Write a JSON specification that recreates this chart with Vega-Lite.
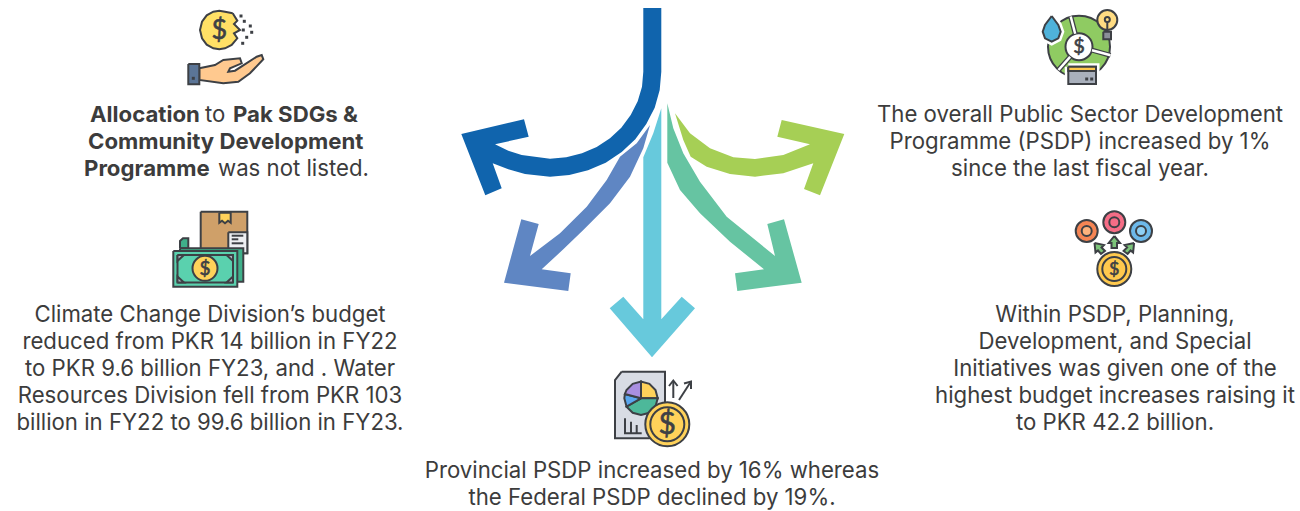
{
"$schema":"https://vega.github.io/schema/vega-lite/v6.json",
"width":1300,"height":511,"padding":0,"autosize":{"type":"fit","contains":"padding"},
"background":"white",
"config":{"view":{"stroke":null}},
"encoding":{
"x":{"field":"x","type":"quantitative","axis":null,"scale":{"domain":[0,1300],"nice":false,"zero":false}},
"y":{"field":"y","type":"quantitative","axis":null,"scale":{"domain":[0,511],"nice":false,"zero":false,"reverse":true}},
"color":{"field":"tone","type":"nominal","legend":null,"scale":{
"domain":["navy","periwinkle","sky","seagreen","lime","coinlight","skin","slate","tan","gold","paper","teal","mint","grass","water","bulb","steel","card","orange","peach","rose","azure","ice","leaf","amber","hollow","white","doc","violet","blue2","jade"],
"range":["#1064AD","#5F86C3","#67C9DC","#66C4A2","#A6CF55","#FFE066","#FFC98F","#5B7597","#CFA069","#FFD25A","#EDEFF2","#3FB08A","#5AD1AE","#8FCB62","#4FB2DA","#FFDC82","#8A8F99","#A9B0BC","#F58554","#FDB27D","#F56D86","#6DB9EA","#8ED0F5","#7CC47A","#FFC94D","transparent","#FFFFFF","#D8DCE4","#A98FE0","#5AA7EE","#4DB89A"]}}
},
"datasets":{
"arrows":[
{"shape":"a1","tone":"navy","x":643.3,"y":8},{"shape":"a1","tone":"navy","x":661.3,"y":8},{"shape":"a1","tone":"navy","x":661.3,"y":71.7},{"shape":"a1","tone":"navy","x":659.7,"y":90},{"shape":"a1","tone":"navy","x":654.7,"y":107.7},{"shape":"a1","tone":"navy","x":646.3,"y":124},{"shape":"a1","tone":"navy","x":635.3,"y":139.3},{"shape":"a1","tone":"navy","x":621.7,"y":152},{"shape":"a1","tone":"navy","x":605.7,"y":162.7},{"shape":"a1","tone":"navy","x":588,"y":170.3},{"shape":"a1","tone":"navy","x":569.3,"y":175},{"shape":"a1","tone":"navy","x":550,"y":176.7},{"shape":"a1","tone":"navy","x":525,"y":174},{"shape":"a1","tone":"navy","x":508.3,"y":169.3},{"shape":"a1","tone":"navy","x":492.7,"y":163.3},{"shape":"a1","tone":"navy","x":501.7,"y":188.3},{"shape":"a1","tone":"navy","x":485.3,"y":195.3},{"shape":"a1","tone":"navy","x":461.3,"y":134},{"shape":"a1","tone":"navy","x":524,"y":119.3},{"shape":"a1","tone":"navy","x":528.7,"y":136.7},{"shape":"a1","tone":"navy","x":495,"y":144.3},{"shape":"a1","tone":"navy","x":508.3,"y":150.7},{"shape":"a1","tone":"navy","x":521.7,"y":155},{"shape":"a1","tone":"navy","x":550,"y":158.7},{"shape":"a1","tone":"navy","x":566.3,"y":157.3},{"shape":"a1","tone":"navy","x":582,"y":153.3},{"shape":"a1","tone":"navy","x":596.7,"y":147},{"shape":"a1","tone":"navy","x":610,"y":138.3},{"shape":"a1","tone":"navy","x":621.3,"y":127.7},{"shape":"a1","tone":"navy","x":630.7,"y":115},{"shape":"a1","tone":"navy","x":637.7,"y":101.3},{"shape":"a1","tone":"navy","x":642,"y":86.7},{"shape":"a1","tone":"navy","x":643.3,"y":71.7},
{"shape":"a2","tone":"periwinkle","x":650,"y":125},{"shape":"a2","tone":"periwinkle","x":643.3,"y":148.3},{"shape":"a2","tone":"periwinkle","x":630,"y":176.7},{"shape":"a2","tone":"periwinkle","x":610,"y":203.3},{"shape":"a2","tone":"periwinkle","x":583.3,"y":230},{"shape":"a2","tone":"periwinkle","x":563.3,"y":249.3},{"shape":"a2","tone":"periwinkle","x":541.7,"y":269.3},{"shape":"a2","tone":"periwinkle","x":570.7,"y":273.3},{"shape":"a2","tone":"periwinkle","x":568.3,"y":291},{"shape":"a2","tone":"periwinkle","x":504,"y":282.7},{"shape":"a2","tone":"periwinkle","x":521.3,"y":219.3},{"shape":"a2","tone":"periwinkle","x":538.7,"y":224},{"shape":"a2","tone":"periwinkle","x":530,"y":256},{"shape":"a2","tone":"periwinkle","x":560,"y":233.3},{"shape":"a2","tone":"periwinkle","x":586.7,"y":206.7},{"shape":"a2","tone":"periwinkle","x":606.7,"y":180},{"shape":"a2","tone":"periwinkle","x":620,"y":156.7},{"shape":"a2","tone":"periwinkle","x":636.7,"y":143.3},
{"shape":"a3","tone":"sky","x":661.3,"y":108.3},{"shape":"a3","tone":"sky","x":661.3,"y":319.3},{"shape":"a3","tone":"sky","x":681.7,"y":296.7},{"shape":"a3","tone":"sky","x":695,"y":308.3},{"shape":"a3","tone":"sky","x":652,"y":357.3},{"shape":"a3","tone":"sky","x":609.7,"y":308.3},{"shape":"a3","tone":"sky","x":623.3,"y":296.7},{"shape":"a3","tone":"sky","x":643.3,"y":319.3},{"shape":"a3","tone":"sky","x":643.3,"y":157.3},{"shape":"a3","tone":"sky","x":653.3,"y":133.3},
{"shape":"a4","tone":"seagreen","x":667.3,"y":103.3},{"shape":"a4","tone":"seagreen","x":673.3,"y":128.3},{"shape":"a4","tone":"seagreen","x":683.3,"y":153.3},{"shape":"a4","tone":"seagreen","x":700,"y":181.7},{"shape":"a4","tone":"seagreen","x":726.7,"y":216.7},{"shape":"a4","tone":"seagreen","x":775,"y":256},{"shape":"a4","tone":"seagreen","x":767.3,"y":224},{"shape":"a4","tone":"seagreen","x":784,"y":219.3},{"shape":"a4","tone":"seagreen","x":801.7,"y":282.7},{"shape":"a4","tone":"seagreen","x":737.3,"y":291},{"shape":"a4","tone":"seagreen","x":735,"y":273.3},{"shape":"a4","tone":"seagreen","x":764,"y":269.3},{"shape":"a4","tone":"seagreen","x":730,"y":241.7},{"shape":"a4","tone":"seagreen","x":700,"y":213.3},{"shape":"a4","tone":"seagreen","x":680,"y":190},{"shape":"a4","tone":"seagreen","x":667.3,"y":162.7},
{"shape":"a5","tone":"lime","x":675,"y":113.3},{"shape":"a5","tone":"lime","x":690,"y":133.3},{"shape":"a5","tone":"lime","x":710,"y":148.3},{"shape":"a5","tone":"lime","x":733.3,"y":157.3},{"shape":"a5","tone":"lime","x":755,"y":159},{"shape":"a5","tone":"lime","x":783.3,"y":155},{"shape":"a5","tone":"lime","x":810,"y":144.3},{"shape":"a5","tone":"lime","x":777.3,"y":136.7},{"shape":"a5","tone":"lime","x":781.7,"y":120},{"shape":"a5","tone":"lime","x":844.3,"y":134},{"shape":"a5","tone":"lime","x":820,"y":195.3},{"shape":"a5","tone":"lime","x":804,"y":189},{"shape":"a5","tone":"lime","x":813.3,"y":163.3},{"shape":"a5","tone":"lime","x":783.3,"y":173.3},{"shape":"a5","tone":"lime","x":755,"y":176.7},{"shape":"a5","tone":"lime","x":730,"y":174},{"shape":"a5","tone":"lime","x":706.7,"y":166.7},{"shape":"a5","tone":"lime","x":690.7,"y":156.7},{"shape":"a5","tone":"lime","x":683.3,"y":140}
],
"base":[
{"shape":"coin1","tone":"coinlight","x":232.7,"y":13.3},{"shape":"coin1","tone":"coinlight","x":237.3,"y":20.7},{"shape":"coin1","tone":"coinlight","x":234,"y":24},{"shape":"coin1","tone":"coinlight","x":240,"y":30},{"shape":"coin1","tone":"coinlight","x":234,"y":33.3},{"shape":"coin1","tone":"coinlight","x":237.3,"y":38.3},{"shape":"coin1","tone":"coinlight","x":231.7,"y":45},{"shape":"coin1","tone":"coinlight","x":225,"y":48.3},{"shape":"coin1","tone":"coinlight","x":219.3,"y":49.3},{"shape":"coin1","tone":"coinlight","x":213.3,"y":48.3},{"shape":"coin1","tone":"coinlight","x":206.7,"y":44.7},{"shape":"coin1","tone":"coinlight","x":202,"y":38.3},{"shape":"coin1","tone":"coinlight","x":200,"y":30},{"shape":"coin1","tone":"coinlight","x":202,"y":21.7},{"shape":"coin1","tone":"coinlight","x":206.7,"y":15.3},{"shape":"coin1","tone":"coinlight","x":213.3,"y":11.7},{"shape":"coin1","tone":"coinlight","x":219.3,"y":10.7},{"shape":"coin1","tone":"coinlight","x":225,"y":11.7},{"shape":"coin1","tone":"coinlight","x":232.7,"y":13.3},
{"shape":"hand","tone":"skin","x":199.3,"y":68.3},{"shape":"hand","tone":"skin","x":215,"y":65},{"shape":"hand","tone":"skin","x":223.3,"y":60},{"shape":"hand","tone":"skin","x":240,"y":58.3},{"shape":"hand","tone":"skin","x":241.7,"y":63.3},{"shape":"hand","tone":"skin","x":230,"y":68.3},{"shape":"hand","tone":"skin","x":228.3,"y":71.7},{"shape":"hand","tone":"skin","x":235,"y":70.7},{"shape":"hand","tone":"skin","x":256.7,"y":56.7},{"shape":"hand","tone":"skin","x":261.7,"y":55},{"shape":"hand","tone":"skin","x":263.3,"y":59.3},{"shape":"hand","tone":"skin","x":250,"y":73.3},{"shape":"hand","tone":"skin","x":238.3,"y":81.7},{"shape":"hand","tone":"skin","x":223.3,"y":83.3},{"shape":"hand","tone":"skin","x":199.3,"y":80},{"shape":"hand","tone":"skin","x":199.3,"y":68.3},
{"shape":"cuff","tone":"slate","x":188.3,"y":64},{"shape":"cuff","tone":"slate","x":199.3,"y":64},{"shape":"cuff","tone":"slate","x":199.3,"y":84.3},{"shape":"cuff","tone":"slate","x":188.3,"y":84.3},{"shape":"cuff","tone":"slate","x":188.3,"y":64},
{"shape":"box","tone":"tan","x":200.7,"y":211.7},{"shape":"box","tone":"tan","x":247.3,"y":211.7},{"shape":"box","tone":"tan","x":247.3,"y":253.3},{"shape":"box","tone":"tan","x":200.7,"y":253.3},{"shape":"box","tone":"tan","x":200.7,"y":211.7},
{"shape":"tab","tone":"gold","x":219.3,"y":212.7},{"shape":"tab","tone":"gold","x":230.7,"y":212.7},{"shape":"tab","tone":"gold","x":230.7,"y":222.7},{"shape":"tab","tone":"gold","x":228,"y":220.7},{"shape":"tab","tone":"gold","x":225,"y":223.3},{"shape":"tab","tone":"gold","x":222,"y":220.7},{"shape":"tab","tone":"gold","x":219.3,"y":222.7},{"shape":"tab","tone":"gold","x":219.3,"y":212.7},
{"shape":"label","tone":"paper","x":228.3,"y":232.3},{"shape":"label","tone":"paper","x":247.3,"y":232.3},{"shape":"label","tone":"paper","x":247.3,"y":253.3},{"shape":"label","tone":"paper","x":228.3,"y":253.3},{"shape":"label","tone":"paper","x":228.3,"y":232.3},
{"shape":"curl","tone":"teal","x":180,"y":248.3},{"shape":"curl","tone":"teal","x":180,"y":241},{"shape":"curl","tone":"teal","x":183,"y":238.3},{"shape":"curl","tone":"teal","x":188.3,"y":238.3},{"shape":"curl","tone":"teal","x":188.3,"y":248.3},{"shape":"curl","tone":"teal","x":180,"y":248.3},
{"shape":"bill0","tone":"teal","x":180,"y":248.3},{"shape":"bill0","tone":"teal","x":243.3,"y":248.3},{"shape":"bill0","tone":"teal","x":243.3,"y":281.7},{"shape":"bill0","tone":"teal","x":180,"y":281.7},{"shape":"bill0","tone":"teal","x":180,"y":248.3},
{"shape":"bill1","tone":"mint","x":173.3,"y":251},{"shape":"bill1","tone":"mint","x":237.3,"y":251},{"shape":"bill1","tone":"mint","x":237.3,"y":286.7},{"shape":"bill1","tone":"mint","x":173.3,"y":286.7},{"shape":"bill1","tone":"mint","x":173.3,"y":251},
{"shape":"bill2","tone":"mint","x":177.5,"y":255},{"shape":"bill2","tone":"mint","x":233,"y":255},{"shape":"bill2","tone":"mint","x":233,"y":282.5},{"shape":"bill2","tone":"mint","x":177.5,"y":282.5},{"shape":"bill2","tone":"mint","x":177.5,"y":255},
{"shape":"c1","tone":"card","x":177.5,"y":255},{"shape":"c1","tone":"card","x":184,"y":255},{"shape":"c1","tone":"card","x":177.5,"y":261},{"shape":"c1","tone":"card","x":177.5,"y":255},
{"shape":"c2","tone":"card","x":233,"y":255},{"shape":"c2","tone":"card","x":226.5,"y":255},{"shape":"c2","tone":"card","x":233,"y":261},{"shape":"c2","tone":"card","x":233,"y":255},
{"shape":"c3","tone":"card","x":177.5,"y":282.5},{"shape":"c3","tone":"card","x":184,"y":282.5},{"shape":"c3","tone":"card","x":177.5,"y":276.5},{"shape":"c3","tone":"card","x":177.5,"y":282.5},
{"shape":"c4","tone":"card","x":233,"y":282.5},{"shape":"c4","tone":"card","x":226.5,"y":282.5},{"shape":"c4","tone":"card","x":233,"y":276.5},{"shape":"c4","tone":"card","x":233,"y":282.5},
{"shape":"doc","tone":"doc","x":621.7,"y":371.7},{"shape":"doc","tone":"doc","x":665,"y":371.7},{"shape":"doc","tone":"doc","x":665,"y":438.3},{"shape":"doc","tone":"doc","x":615,"y":438.3},{"shape":"doc","tone":"doc","x":615,"y":380},{"shape":"doc","tone":"doc","x":621.7,"y":371.7},
{"shape":"pie1","tone":"gold","x":641,"y":398.3},{"shape":"pie1","tone":"gold","x":641,"y":381.6},{"shape":"pie1","tone":"gold","x":649.4,"y":383.8},{"shape":"pie1","tone":"gold","x":655.5,"y":390},{"shape":"pie1","tone":"gold","x":657.7,"y":398.3},{"shape":"pie1","tone":"gold","x":641,"y":398.3},
{"shape":"pie2","tone":"jade","x":641,"y":398.3},{"shape":"pie2","tone":"jade","x":657.7,"y":398.3},{"shape":"pie2","tone":"jade","x":655.5,"y":406.6},{"shape":"pie2","tone":"jade","x":649.4,"y":412.8},{"shape":"pie2","tone":"jade","x":641,"y":415},{"shape":"pie2","tone":"jade","x":632.7,"y":412.8},{"shape":"pie2","tone":"jade","x":626.5,"y":406.6},{"shape":"pie2","tone":"jade","x":641,"y":398.3},
{"shape":"pie3","tone":"blue2","x":641,"y":398.3},{"shape":"pie3","tone":"blue2","x":626.5,"y":406.6},{"shape":"pie3","tone":"blue2","x":624.3,"y":398.3},{"shape":"pie3","tone":"blue2","x":624.9,"y":394},{"shape":"pie3","tone":"blue2","x":641,"y":398.3},
{"shape":"pie4","tone":"violet","x":641,"y":398.3},{"shape":"pie4","tone":"violet","x":624.9,"y":394},{"shape":"pie4","tone":"violet","x":626.5,"y":390},{"shape":"pie4","tone":"violet","x":632.7,"y":383.8},{"shape":"pie4","tone":"violet","x":641,"y":381.6},{"shape":"pie4","tone":"violet","x":641,"y":398.3}
],
"circles":[
{"tone":"gold","x":205,"y":268.3,"d":25},
{"tone":"grass","x":1079,"y":46.7,"d":62},
{"tone":"white","x":1079,"y":46.7,"d":27},
{"tone":"bulb","x":1107.3,"y":20,"d":20},
{"tone":"hollow","x":1107.3,"y":19.5,"d":5},
{"tone":"orange","x":1086.7,"y":231,"d":22},
{"tone":"peach","x":1086.7,"y":231,"d":10},
{"tone":"rose","x":1114.3,"y":222.3,"d":22},
{"tone":"hollow","x":1114.3,"y":222.3,"d":10},
{"tone":"azure","x":1141,"y":231,"d":22},
{"tone":"ice","x":1141,"y":231,"d":10},
{"tone":"amber","x":1114.3,"y":269,"d":34},
{"tone":"hollow","x":1114.3,"y":269,"d":24},
{"tone":"gold","x":667.3,"y":424.3,"d":44},
{"tone":"hollow","x":667.3,"y":424.3,"d":34}
],
"dots":[
{"x":241,"y":16},{"x":244.3,"y":21.3},{"x":250.3,"y":26},{"x":243.3,"y":30},{"x":251.7,"y":32.3},{"x":246.7,"y":37.3},{"x":242.7,"y":43.3},{"x":193.3,"y":78.3},{"x":1086.7,"y":79},{"x":1091.7,"y":79}
],
"halo":[
{"shape":"h1","tone":"white","x":1068.3,"y":66.7},{"shape":"h1","tone":"white","x":1096,"y":66.7},{"shape":"h1","tone":"white","x":1096,"y":84},{"shape":"h1","tone":"white","x":1068.3,"y":84},{"shape":"h1","tone":"white","x":1068.3,"y":66.7},
{"shape":"h2","tone":"white","x":1051.7,"y":16},{"shape":"h2","tone":"white","x":1058.3,"y":25},{"shape":"h2","tone":"white","x":1060.7,"y":31.7},{"shape":"h2","tone":"white","x":1058.3,"y":38.3},{"shape":"h2","tone":"white","x":1051.7,"y":41.7},{"shape":"h2","tone":"white","x":1045,"y":38.3},{"shape":"h2","tone":"white","x":1042.7,"y":31.7},{"shape":"h2","tone":"white","x":1045,"y":25},{"shape":"h2","tone":"white","x":1051.7,"y":16}
],
"top":[
{"shape":"drop","tone":"water","x":1051.7,"y":16},{"shape":"drop","tone":"water","x":1058.3,"y":25},{"shape":"drop","tone":"water","x":1060.7,"y":31.7},{"shape":"drop","tone":"water","x":1058.3,"y":38.3},{"shape":"drop","tone":"water","x":1051.7,"y":41.7},{"shape":"drop","tone":"water","x":1045,"y":38.3},{"shape":"drop","tone":"water","x":1042.7,"y":31.7},{"shape":"drop","tone":"water","x":1045,"y":25},{"shape":"drop","tone":"water","x":1051.7,"y":16},
{"shape":"bulbbase","tone":"steel","x":1103.3,"y":31.7},{"shape":"bulbbase","tone":"steel","x":1111,"y":31.7},{"shape":"bulbbase","tone":"steel","x":1111,"y":39.3},{"shape":"bulbbase","tone":"steel","x":1103.3,"y":39.3},{"shape":"bulbbase","tone":"steel","x":1103.3,"y":31.7},
{"shape":"card","tone":"card","x":1068.3,"y":66.7},{"shape":"card","tone":"card","x":1096,"y":66.7},{"shape":"card","tone":"card","x":1096,"y":84},{"shape":"card","tone":"card","x":1068.3,"y":84},{"shape":"card","tone":"card","x":1068.3,"y":66.7},
{"shape":"stripe","tone":"amber","x":1068.3,"y":66.7},{"shape":"stripe","tone":"amber","x":1096,"y":66.7},{"shape":"stripe","tone":"amber","x":1096,"y":71},{"shape":"stripe","tone":"amber","x":1068.3,"y":71},{"shape":"stripe","tone":"amber","x":1068.3,"y":66.7},
{"shape":"up","tone":"leaf","x":1114.3,"y":236},{"shape":"up","tone":"leaf","x":1120,"y":243},{"shape":"up","tone":"leaf","x":1117,"y":243},{"shape":"up","tone":"leaf","x":1117,"y":248},{"shape":"up","tone":"leaf","x":1111.5,"y":248},{"shape":"up","tone":"leaf","x":1111.5,"y":243},{"shape":"up","tone":"leaf","x":1108.7,"y":243},{"shape":"up","tone":"leaf","x":1114.3,"y":236},
{"shape":"ul","tone":"leaf","x":1094.5,"y":243},{"shape":"ul","tone":"leaf","x":1104,"y":245},{"shape":"ul","tone":"leaf","x":1101.5,"y":247.5},{"shape":"ul","tone":"leaf","x":1105,"y":251},{"shape":"ul","tone":"leaf","x":1101,"y":254},{"shape":"ul","tone":"leaf","x":1098,"y":250.5},{"shape":"ul","tone":"leaf","x":1095.5,"y":252.5},{"shape":"ul","tone":"leaf","x":1094.5,"y":243},
{"shape":"ur","tone":"leaf","x":1134.1,"y":243},{"shape":"ur","tone":"leaf","x":1124.6,"y":245},{"shape":"ur","tone":"leaf","x":1127.1,"y":247.5},{"shape":"ur","tone":"leaf","x":1123.6,"y":251},{"shape":"ur","tone":"leaf","x":1127.6,"y":254},{"shape":"ur","tone":"leaf","x":1130.6,"y":250.5},{"shape":"ur","tone":"leaf","x":1133.1,"y":252.5},{"shape":"ur","tone":"leaf","x":1134.1,"y":243}
],
"gaps":[
{"shape":"g1","x":1075.2,"y":33.7},{"shape":"g1","x":1070.7,"y":16.5},
{"shape":"g2","x":1092,"y":50.2},{"shape":"g2","x":1110.5,"y":55.3},
{"shape":"g3","x":1070.1,"y":56.8},{"shape":"g3","x":1058.5,"y":70}
],
"strokes":[
{"shape":"l1","x":231.7,"y":235.7},{"shape":"l1","x":243.3,"y":235.7},
{"shape":"l2","x":231.7,"y":239.3},{"shape":"l2","x":238.3,"y":239.3},
{"shape":"l3","x":231.7,"y":243.3},{"shape":"l3","x":243.3,"y":243.3},
{"shape":"stem","x":1107.3,"y":22},{"shape":"stem","x":1107.3,"y":31.7},
{"shape":"b1","x":625,"y":418.3},{"shape":"b1","x":625,"y":433.3},{"shape":"b1","x":641.7,"y":433.3},
{"shape":"b2","x":631,"y":421.7},{"shape":"b2","x":631,"y":433.3},
{"shape":"b3","x":636.7,"y":425},{"shape":"b3","x":636.7,"y":433.3},
{"shape":"u1","x":673.3,"y":398},{"shape":"u1","x":673.3,"y":381},
{"shape":"u2","x":669,"y":386},{"shape":"u2","x":673.3,"y":380.5},{"shape":"u2","x":677.6,"y":386},
{"shape":"d1","x":679,"y":400},{"shape":"d1","x":690,"y":383},
{"shape":"d2","x":684,"y":383.5},{"shape":"d2","x":691,"y":381.5},{"shape":"d2","x":691,"y":389}
],
"dollars":[
{"label":"$","x":219.3,"y":30.5,"pt":27},
{"label":"$","x":205,"y":268.5,"pt":19},
{"label":"$","x":1079,"y":47,"pt":20},
{"label":"$","x":1114.3,"y":269.5,"pt":18},
{"label":"$","x":667.3,"y":424.5,"pt":30}
],
"centered":[
{"label":"The overall Public Sector Development","x":1080,"y":114},
{"label":"Programme (PSDP) increased by 1%","x":1080,"y":141},
{"label":"since the last fiscal year.","x":1080,"y":168},
{"label":"Climate Change Division’s budget","x":210,"y":314},
{"label":"reduced from PKR 14 billion in FY22","x":210,"y":341},
{"label":"to PKR 9.6 billion FY23, and . Water","x":210,"y":368},
{"label":"Resources Division fell from PKR 103","x":210,"y":395},
{"label":"billion in FY22 to 99.6 billion in FY23.","x":210,"y":422},
{"label":"Within PSDP, Planning,","x":1115,"y":314},
{"label":"Development, and Special","x":1115,"y":341},
{"label":"Initiatives was given one of the","x":1115,"y":368},
{"label":"highest budget increases raising it","x":1115,"y":395},
{"label":"to PKR 42.2 billion.","x":1115,"y":422},
{"label":"Provincial PSDP increased by 16% whereas","x":652,"y":470},
{"label":"the Federal PSDP declined by 19%.","x":652,"y":497}
],
"leftbold":[
{"label":"Allocation","x":90,"y":114},
{"label":"Pak SDGs &","x":233,"y":114},
{"label":"Community Development","x":88,"y":141},
{"label":"Programme","x":84,"y":168}
],
"leftplain":[
{"label":"to","x":205,"y":114},
{"label":"was not listed.","x":218,"y":168}
]
},
"layer":[
{"data":{"name":"arrows"},"transform":[{"window":[{"op":"row_number","as":"seq"}]}],"mark":{"type":"line","filled":true,"strokeWidth":0},"encoding":{"detail":{"field":"shape"},"order":{"field":"seq","type":"quantitative"}}},
{"data":{"name":"base"},"transform":[{"window":[{"op":"row_number","as":"seq"}]}],"mark":{"type":"line","filled":true,"stroke":"#3D4045","strokeWidth":2},"encoding":{"detail":{"field":"shape"},"order":{"field":"seq","type":"quantitative"}}},
{"data":{"name":"circles"},"mark":{"type":"point","shape":"circle","filled":true,"opacity":1,"stroke":"#3D4045","strokeWidth":2},"encoding":{"size":{"field":"d","type":"quantitative","legend":null,"scale":{"type":"pow","exponent":2,"domain":[0,100],"range":[0,10000]}}}},
{"data":{"name":"gaps"},"transform":[{"window":[{"op":"row_number","as":"seq"}]}],"mark":{"type":"line","strokeWidth":5},"encoding":{"detail":{"field":"shape"},"order":{"field":"seq","type":"quantitative"},"color":{"value":"#3D4045"}}},
{"data":{"name":"gaps"},"transform":[{"window":[{"op":"row_number","as":"seq"}]}],"mark":{"type":"line","strokeWidth":2.5},"encoding":{"detail":{"field":"shape"},"order":{"field":"seq","type":"quantitative"},"color":{"value":"#FFFFFF"}}},
{"data":{"name":"halo"},"transform":[{"window":[{"op":"row_number","as":"seq"}]}],"mark":{"type":"line","filled":true,"stroke":"#FFFFFF","strokeWidth":7},"encoding":{"detail":{"field":"shape"},"order":{"field":"seq","type":"quantitative"}}},
{"data":{"name":"top"},"transform":[{"window":[{"op":"row_number","as":"seq"}]}],"mark":{"type":"line","filled":true,"stroke":"#3D4045","strokeWidth":2},"encoding":{"detail":{"field":"shape"},"order":{"field":"seq","type":"quantitative"}}},
{"data":{"name":"strokes"},"transform":[{"window":[{"op":"row_number","as":"seq"}]}],"mark":{"type":"line","strokeWidth":2},"encoding":{"detail":{"field":"shape"},"order":{"field":"seq","type":"quantitative"},"color":{"value":"#3D4045"}}},
{"data":{"name":"dots"},"mark":{"type":"point","shape":"square","filled":true,"opacity":1,"size":9},"encoding":{"color":{"value":"#3D4045"}}},
{"data":{"name":"dollars"},"mark":{"type":"text","font":"Lato","fontWeight":"normal","baseline":"middle","align":"center","stroke":"#3D4045","strokeWidth":0.6},"encoding":{"text":{"field":"label"},"color":{"value":"#3D4045"},"size":{"field":"pt","type":"quantitative","scale":null}}},
{"data":{"name":"centered"},"mark":{"type":"text","font":"Inter","fontSize":22.2,"baseline":"middle","align":"center","dy":1},"encoding":{"text":{"field":"label"},"color":{"value":"#3C3C3C"}}},
{"data":{"name":"leftbold"},"mark":{"type":"text","font":"Inter","fontSize":22.2,"fontWeight":"bold","baseline":"middle","align":"left","dy":1},"encoding":{"text":{"field":"label"},"color":{"value":"#3C3C3C"}}},
{"data":{"name":"leftplain"},"mark":{"type":"text","font":"Inter","fontSize":22.2,"baseline":"middle","align":"left","dy":1},"encoding":{"text":{"field":"label"},"color":{"value":"#3C3C3C"}}}
]
}
